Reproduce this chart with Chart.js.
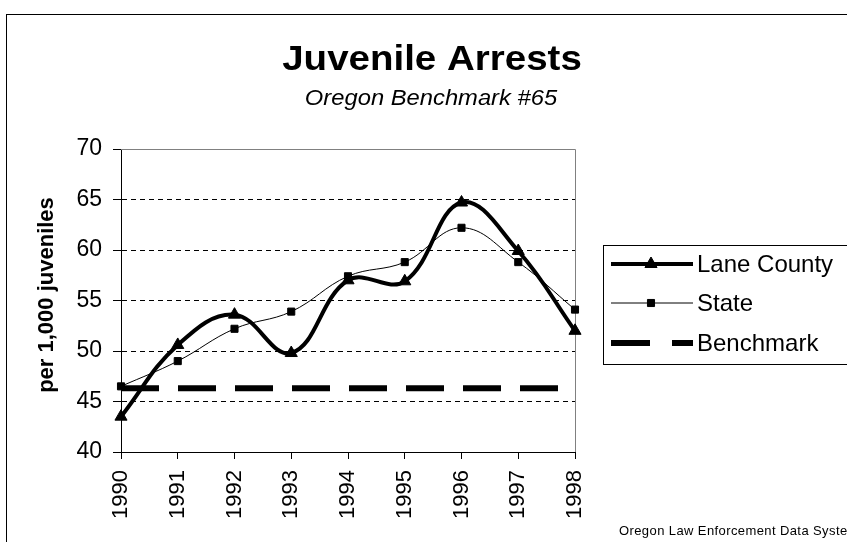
<!DOCTYPE html>
<html>
<head>
<meta charset="utf-8">
<script src="https://cdn.jsdelivr.net/npm/chart.js@4.4.0/dist/chart.umd.min.js"></script>
<style>
  body { margin: 0; background: #fff; }
  canvas { display: block; }
</style>
</head>
<body>
<canvas id="chart" width="847" height="542"></canvas>
<script>
// values
const years = ['1990', '1991', '1992', '1993', '1994', '1995', '1996', '1997', '1998'];
const laneCounty = [43.5, 50.6, 53.6, 49.8, 57.0, 56.9, 64.7, 59.9, 52.0];
const stateRate = [46.5, 49.0, 52.2, 53.9, 57.4, 58.8, 62.2, 58.8, 54.1];
const benchmark = [46.3, 46.3, 46.3, 46.3, 46.3, 46.3, 46.3, 46.3, 46.3];
const yTicks = [40, 45, 50, 55, 60, 65, 70];

const FONT = '"Liberation Sans", Arial, sans-serif';

// titles, frame, legend and footer drawn straight on the canvas
const decor = {
    id: 'decor',
    beforeDatasetsDraw(chart) {
        const ctx = chart.ctx;
        const a = chart.chartArea;
        ctx.save();
        ctx.strokeStyle = '#808080';
        ctx.lineWidth = 1;
        ctx.beginPath();
        ctx.moveTo(a.left, Math.round(a.top) + 0.5);
        ctx.lineTo(Math.round(a.right) + 0.5, Math.round(a.top) + 0.5);
        ctx.lineTo(Math.round(a.right) + 0.5, a.bottom);
        ctx.stroke();
        ctx.restore();
    },
    afterDraw(chart) {
        const ctx = chart.ctx;
        ctx.save();
        // outer border of the chart object
        ctx.strokeStyle = '#000';
        ctx.lineWidth = 1;
        ctx.strokeRect(6.5, 14.5, 900, 600);

        ctx.fillStyle = '#000';
        ctx.textAlign = 'center';
        ctx.textBaseline = 'alphabetic';
        // the original titles are a little wider than tall
        ctx.save();
        ctx.translate(432, 70);
        ctx.scale(1.1, 1);
        ctx.font = 'bold 35px ' + FONT;
        ctx.fillText('Juvenile Arrests', 0, 0);
        ctx.restore();
        ctx.save();
        ctx.translate(431, 105);
        ctx.scale(1.08, 1);
        ctx.font = 'italic 22px ' + FONT;
        ctx.fillText('Oregon Benchmark #65', 0, 0);
        ctx.restore();

        // y axis title
        ctx.save();
        ctx.translate(47, 295);
        ctx.rotate(-Math.PI / 2);
        ctx.textBaseline = 'middle';
        ctx.font = 'bold 22px ' + FONT;
        ctx.fillText('per 1,000 juveniles', 0, 0);
        ctx.restore();

        // legend
        ctx.strokeRect(603.5, 245.5, 250, 119);
        const rows = [264, 303, 343];
        chart.data.datasets.forEach((ds, i) => {
            const y = rows[i];
            ctx.save();
            ctx.strokeStyle = '#000';
            ctx.lineWidth = ds.borderWidth;
            ctx.lineCap = 'butt';
            ctx.setLineDash(ds.borderDash ? [39, 22] : []);
            ctx.beginPath();
            ctx.moveTo(611, y);
            ctx.lineTo(693, y);
            ctx.stroke();
            ctx.restore();
            if (ds.pointRadius > 0) {
                ctx.fillStyle = '#000';
                ctx.strokeStyle = '#000';
                Chart.helpers.drawPoint(ctx, {
                    pointStyle: ds.pointStyle, radius: ds.pointRadius,
                    borderWidth: 1, rotation: 0
                }, 651, y);
            }
            ctx.fillStyle = '#000';
            ctx.textAlign = 'left';
            ctx.textBaseline = 'middle';
            ctx.font = '24px ' + FONT;
            ctx.fillText(ds.label, 697, y + 1);
        });

        // source footer
        ctx.textAlign = 'left';
        ctx.textBaseline = 'middle';
        ctx.font = '13px ' + FONT;
        ctx.letterSpacing = '0.4px';
        ctx.fillText('Oregon Law Enforcement Data System', 619, 531);
        ctx.restore();
    }
};

const ctx = document.getElementById('chart').getContext('2d');
const myChart = new Chart(ctx, {
    type: 'line',
    data: {
        labels: years,
        datasets: [{
            label: 'Lane County',
            data: laneCounty,
            borderColor: '#000',
            backgroundColor: '#000',
            borderWidth: 4,
            tension: 0.4,
            pointStyle: 'triangle',
            pointRadius: 7,
            pointBorderWidth: 1,
            pointBackgroundColor: '#000',
            pointBorderColor: '#000',
            clip: false
        }, {
            label: 'State',
            data: stateRate,
            borderColor: '#000',
            backgroundColor: '#000',
            borderWidth: 1,
            tension: 0.4,
            pointStyle: 'rect',
            pointRadius: 5,
            pointBorderWidth: 1,
            pointBackgroundColor: '#000',
            pointBorderColor: '#000',
            clip: false
        }, {
            label: 'Benchmark',
            data: benchmark,
            borderColor: '#000',
            borderWidth: 6,
            borderDash: [38, 19],
            borderCapStyle: 'butt',
            pointRadius: 0,
            tension: 0
        }]
    },
    options: {
        responsive: false,
        animation: false,
        layout: { padding: { top: 149, right: 272, bottom: 0, left: 0 } },
        plugins: {
            legend: { display: false },
            title: { display: false },
            tooltip: { enabled: false }
        },
        scales: {
            x: {
                offset: false,
                grid: { drawOnChartArea: false, color: '#000', tickLength: 7 },
                border: { color: '#000', width: 1 },
                ticks: {
                    color: '#000',
                    font: { family: FONT, size: 22 },
                    minRotation: 90,
                    maxRotation: 90,
                    autoSkip: false,
                    padding: 11
                },
                afterFit: s => { s.height = 90; }
            },
            y: {
                min: 40,
                max: 70,
                afterBuildTicks: s => { s.ticks = yTicks.map(v => ({ value: v })); },
                grid: {
                    color: c => (c.tick && c.tick.value === 70) ? 'rgba(0,0,0,0)' : '#000',
                    lineWidth: 1,
                    tickLength: 8,
                    tickColor: '#000',
                    tickBorderDash: []
                },
                border: { color: '#000', width: 1, dash: [5, 4] },
                ticks: {
                    color: '#000',
                    font: { family: FONT, size: 23 },
                    padding: 11
                },
                afterFit: s => { s.width = 121; }
            }
        }
    },
    plugins: [decor]
});
</script>
</body>
</html>
